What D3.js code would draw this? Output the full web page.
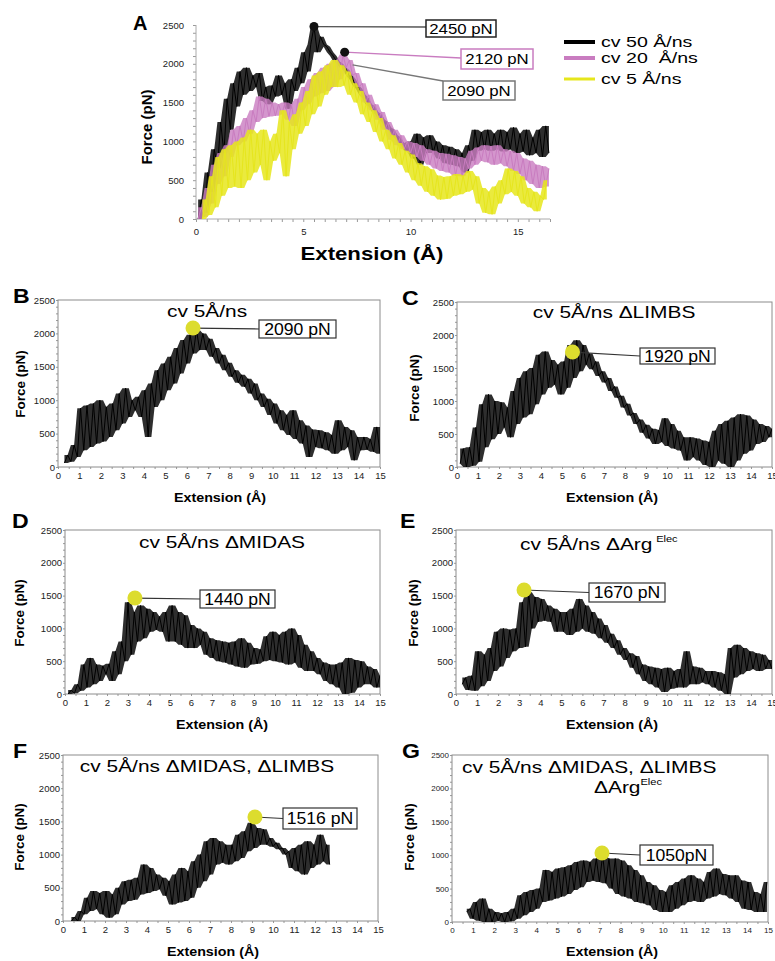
<!DOCTYPE html>
<html>
<head>
<meta charset="utf-8">
<script src="https://cdn.jsdelivr.net/npm/d3@7"></script>
<style>
  body { margin: 0; background: #fff; }
  svg { display: block; font-family: "Liberation Sans", Arial, sans-serif; }
</style>
</head>
<body>
<svg id="fig" width="775" height="961"></svg>
<script>
// every trace is a list of force values (pN),
// one value every STEP Å starting at the trace's first extension
const STEP = 0.15;

// panel A
const cv50Start = 0.1;
const cv50 = [0, 250, 80, 600, 350, 900, 650, 1250, 850, 1550,
  1150, 1750, 1450, 1900, 1600, 1950, 1650, 1850, 1700, 1880,
  1520, 1700, 1480, 1720, 1580, 1850, 1600, 1750, 1420, 1800,
  1650, 1950, 1750, 2150, 1900, 2250, 2480, 2150, 2350, 2250,
  2220, 2150, 2100, 2030, 2000, 1950, 1920, 1850, 1800, 1720,
  1680, 1600, 1560, 1480, 1450, 1380, 1350, 1280, 1250, 1180,
  1150, 1080, 1050, 980, 950, 880, 1000, 780, 1100, 700,
  1050, 850, 1080, 850, 1000, 780, 950, 720, 930, 700,
  900, 680, 850, 600, 950, 750, 1150, 880, 1120, 900,
  1150, 880, 1100, 900, 1150, 870, 1120, 900, 1180, 850,
  1100, 870, 1150, 820, 1050, 850, 1150, 800, 1200, 850];
const cv20Start = 0.1;
const cv20 = [0, 150, 30, 400, 200, 700, 450, 850, 550, 950,
  800, 1150, 950, 1200, 1000, 1300, 1100, 1400, 1250, 1580,
  1300, 1550, 1320, 1500, 1330, 1480, 1350, 1500, 1280, 1480,
  1200, 1550, 1400, 1700, 1480, 1800, 1580, 1880, 1620, 1950,
  1650, 2000, 1700, 2050, 1800, 2120, 1950, 2050, 1850, 1880,
  1700, 1750, 1500, 1600, 1400, 1480, 1280, 1380, 1150, 1250,
  1020, 1150, 950, 1080, 900, 1000, 850, 980, 800, 950,
  750, 900, 700, 880, 650, 850, 620, 840, 600, 820,
  560, 800, 550, 780, 650, 880, 700, 920, 750, 950,
  730, 940, 700, 950, 720, 900, 680, 880, 620, 850,
  580, 780, 500, 750, 450, 700, 400, 680, 420, 650];
const cv5Start = 0.3;
const cv5 = [0, 250, 50, 550, 150, 800, 300, 900, 400, 950,
  420, 1000, 400, 1050, 500, 1150, 600, 1100, 700, 1150,
  500, 1000, 750, 1100, 850, 1400, 550, 1250, 900, 1350,
  1100, 1500, 1200, 1650, 1350, 1850, 1450, 1900, 1600, 1980,
  1700, 2050, 1700, 1980, 1720, 1900, 1600, 1750, 1500, 1650,
  1350, 1500, 1250, 1400, 1120, 1300, 1000, 1150, 900, 1080,
  780, 980, 700, 880, 600, 830, 500, 720, 430, 680,
  350, 640, 300, 560, 250, 540, 260, 550, 300, 580,
  320, 560, 350, 620, 380, 550, 200, 400, 80, 350,
  60, 420, 200, 500, 320, 650, 350, 620, 300, 550,
  200, 400, 150, 350, 100, 300, 250, 500];

// panels B-G (all cv 5 Å/ns)
const traceStarts = [0.3, 0.15, 0.15, 0.3, 0.4, 0.7];
const traceB = [60, 180, 80, 330, 150, 880, 250, 920, 300, 950,
  350, 1000, 380, 900, 450, 950, 550, 1100, 650, 1180,
  750, 1000, 850, 1050, 750, 1150, 450, 1250, 900, 1450,
  1000, 1550, 1150, 1650, 1250, 1780, 1400, 1900, 1550, 1980,
  1700, 2050, 1750, 2000, 1750, 1920, 1650, 1780, 1550, 1680,
  1450, 1560, 1350, 1450, 1260, 1380, 1200, 1320, 1100, 1250,
  1000, 1100, 900, 1020, 780, 950, 650, 850, 550, 780,
  480, 850, 420, 700, 350, 620, 150, 560, 300, 550,
  280, 520, 250, 480, 200, 700, 250, 600, 300, 550,
  100, 450, 250, 450, 260, 420, 230, 600, 200];
const traceC = [50, 280, 0, 300, 20, 600, 80, 950, 300, 1100,
  420, 1000, 500, 980, 600, 900, 450, 1150, 650, 1350,
  750, 1450, 800, 1500, 950, 1700, 1100, 1750, 1200, 1620,
  1250, 1550, 1100, 1600, 1200, 1850, 1350, 1920, 1450, 1850,
  1550, 1720, 1480, 1600, 1380, 1450, 1280, 1350, 1150, 1220,
  1050, 1080, 900, 960, 780, 820, 650, 720, 520, 640,
  430, 580, 350, 560, 380, 740, 320, 650, 280, 550,
  250, 450, 100, 450, 150, 430, 100, 400, 30, 380,
  0, 550, 100, 650, 50, 700, 0, 750, 100, 800,
  200, 780, 250, 720, 350, 650, 380, 620, 450, 580];
const traceD = [0, 60, 10, 150, 50, 450, 100, 550, 150, 450,
  200, 430, 300, 460, 200, 650, 300, 800, 500, 1400,
  600, 1250, 800, 1350, 850, 1300, 950, 1250, 980, 1180,
  950, 1250, 800, 1350, 800, 1250, 750, 1200, 700, 1050,
  700, 1000, 750, 950, 600, 850, 550, 820, 500, 800,
  480, 780, 450, 800, 420, 850, 400, 780, 450, 700,
  460, 680, 500, 880, 520, 950, 500, 900, 480, 950,
  450, 1000, 480, 900, 400, 750, 350, 650, 350, 550,
  300, 480, 200, 450, 150, 450, 100, 480, 0, 550,
  20, 520, 100, 500, 150, 420, 150, 380, 100, 280];
const traceE = [150, 250, 60, 280, 50, 650, 120, 600, 200, 700,
  350, 950, 420, 1000, 550, 980, 650, 1000, 700, 1400,
  720, 1550, 1000, 1480, 1100, 1450, 1120, 1350, 1100, 1300,
  950, 1250, 950, 1250, 900, 1300, 950, 1450, 1000, 1350,
  950, 1250, 920, 1150, 850, 1050, 780, 920, 700, 820,
  600, 700, 520, 620, 400, 580, 300, 450, 200, 420,
  150, 400, 100, 380, 30, 400, 80, 350, 100, 380,
  100, 650, 150, 420, 150, 400, 180, 350, 150, 350,
  100, 330, 50, 300, 0, 700, 250, 750, 300, 700,
  350, 650, 380, 620, 350, 600, 380, 520, 380];
const traceF = [0, 60, 0, 150, 100, 350, 150, 450, 180, 420,
  100, 450, 50, 400, 100, 500, 250, 600, 300, 620,
  320, 650, 400, 850, 420, 800, 450, 700, 480, 650,
  380, 600, 250, 700, 280, 800, 300, 750, 350, 900,
  500, 1000, 600, 1200, 700, 1250, 850, 1200, 880, 1150,
  850, 1150, 900, 1300, 950, 1350, 1050, 1480, 1100, 1400,
  1150, 1380, 1150, 1250, 1120, 1180, 1080, 1100, 1000, 1050,
  800, 1100, 750, 1150, 700, 1200, 800, 1150, 850, 1300,
  900, 1150, 850];
const traceG = [150, 200, 50, 300, 20, 350, 0, 200, 0, 150,
  20, 130, 0, 150, 10, 200, 50, 400, 100, 450,
  150, 480, 200, 500, 300, 780, 320, 750, 350, 800,
  380, 820, 420, 850, 480, 900, 520, 920, 600, 900,
  620, 950, 600, 1000, 580, 950, 500, 950, 420, 920,
  380, 850, 350, 780, 300, 700, 280, 600, 250, 550,
  180, 480, 150, 450, 150, 550, 200, 600, 250, 650,
  300, 700, 320, 650, 300, 600, 350, 750, 380, 800,
  420, 720, 400, 700, 350, 700, 300, 620, 200, 600,
  180, 450, 150, 420, 150, 600];

// peak annotations
const peakAExt = [5.5, 6.93, 7.3];
const peakAForce = [2480, 2150, 1985];
const peakALabels = ["2450 pN", "2120 pN", "2090 pN"];
const peakExt = [6.29, 5.5, 3.33, 3.23, 9.14, 7.12];
const peakForce = [2080, 1742, 1463, 1585, 1566, 1033];
const peakLabels = ["2090 pN", "1920 pN", "1440 pN", "1670 pN", "1516 pN", "1050pN"];

const panelLetters = ["B", "C", "D", "E", "F", "G"];
const panelTitles = ["cv 5Å/ns", "cv 5Å/ns ΔLIMBS", "cv 5Å/ns ΔMIDAS", "cv 5Å/ns ΔArg",
  "cv 5Å/ns ΔMIDAS, ΔLIMBS", "cv 5Å/ns ΔMIDAS, ΔLIMBS"];
const legendLabels = ["cv 50 Å/ns", "cv 20  Å/ns", "cv 5 Å/ns"];
const forceTicks = [0, 500, 1000, 1500, 2000, 2500];
const extTicksA = [0, 5, 10, 15];
const extTicks = d3.range(0, 16);

const BLACK = "#000", PINK = "#c97cc0", YELLOW = "#e6e61c", DOT = "#dcdc2e";

const svg = d3.select("#fig");

// text with the slight horizontal stretch of the scanned figure
function label(g, x, y, s, size, opt = {}) {
  return g.append("text")
    .attr("transform", `translate(${x},${y}) scale(${opt.sx || 1},1)`)
    .attr("text-anchor", opt.anchor || "start")
    .attr("font-size", size)
    .attr("font-weight", opt.bold ? "bold" : null)
    .attr("fill", opt.fill || "#000")
    .style("white-space", "pre")
    .text(s);
}

function vlabel(g, x, y, s, size) {
  g.append("text")
    .attr("transform", `translate(${x},${y}) rotate(-90)`)
    .attr("text-anchor", "middle")
    .attr("font-size", size)
    .attr("font-weight", "bold")
    .text(s);
}

// a noisy trace: the band its samples sweep through, then the samples joined up
function trace(g, x, y, start, values, color, width, shade) {
  const ext = (d, i) => x(start + i * STEP);
  const span = values.map((v, i) => {
    const w = values.slice(Math.max(0, i - 1), i + 2);
    return [d3.min(w), d3.max(w)];
  });
  g.append("path")
    .attr("d", d3.area().x(ext).y0(d => y(d[0])).y1(d => y(d[1]))(span))
    .attr("fill", color)
    .attr("fill-opacity", shade);
  g.append("path")
    .attr("d", d3.line().x(ext).y(d => y(d))(values))
    .attr("fill", "none")
    .attr("stroke", color)
    .attr("stroke-width", width)
    .attr("stroke-linejoin", "round");
}

function tidyAxis(sel, size) {
  sel.select(".domain").remove();
  sel.selectAll("text").attr("font-size", size).attr("fill", "#222")
    .attr("font-family", "Liberation Sans, Arial, sans-serif");
  sel.selectAll("line").attr("stroke", "#999");
}

// ---------- panel A ----------
{
  const g = svg.append("g");
  const x = d3.scaleLinear().domain([0, 16.5]).range([196, 550]);
  const y = d3.scaleLinear().domain([0, 2500]).range([219, 25]);

  // minor ticks
  g.append("g").attr("transform", "translate(196,0)")
    .call(d3.axisLeft(y).tickValues(d3.range(0, 2501, 100)).tickSize(3).tickFormat(""))
    .call(s => tidyAxis(s, 9));
  g.append("g").attr("transform", "translate(0,219)")
    .call(d3.axisBottom(x).tickValues(d3.range(0, 16.6, 0.5)).tickSize(3).tickFormat(""))
    .call(s => tidyAxis(s, 9));
  g.append("g").attr("transform", "translate(184,0)")
    .call(d3.axisLeft(y).tickValues(forceTicks).tickSize(0).tickPadding(0).tickFormat(d3.format("d")))
    .call(s => tidyAxis(s, 9.5));
  g.append("g").attr("transform", "translate(0,228)")
    .call(d3.axisBottom(x).tickValues(extTicksA).tickSize(0).tickPadding(0).tickFormat(d3.format("d")))
    .call(s => tidyAxis(s, 9.5));
  g.append("line").attr("x1", 196).attr("x2", 196).attr("y1", 25).attr("y2", 219).attr("stroke", "#aaa");
  g.append("line").attr("x1", 196).attr("x2", 550).attr("y1", 219).attr("y2", 219).attr("stroke", "#aaa");

  svg.append("clipPath").attr("id", "clipA").append("rect")
    .attr("x", 196).attr("y", 20).attr("width", 354).attr("height", 200);
  const plot = g.append("g").attr("clip-path", "url(#clipA)");
  trace(plot, x, y, cv50Start, cv50, BLACK, 1, 0.82);
  trace(plot, x, y, cv20Start, cv20, PINK, 1, 0.8);
  trace(plot, x, y, cv5Start, cv5, YELLOW, 1, 0.85);

  // peak call-outs
  const boxes = [
    { x: 426, y: 20, w: 70, h: 17, stroke: "#222", line: "#555", ly: 27 },
    { x: 461, y: 49, w: 72, h: 20, stroke: PINK, line: PINK, ly: 58 },
    { x: 443, y: 81, w: 72, h: 19, stroke: "#777", line: "#777", ly: 81 }
  ];
  boxes.forEach((b, i) => {
    const px = x(peakAExt[i]), py = y(peakAForce[i]);
    g.append("line").attr("x1", px).attr("y1", py).attr("x2", b.x).attr("y2", b.ly)
      .attr("stroke", b.line).attr("stroke-width", 1.3);
    if (i < 2) g.append("circle").attr("cx", px).attr("cy", py).attr("r", 4.5).attr("fill", "#111");
    g.append("rect").attr("x", b.x).attr("y", b.y).attr("width", b.w).attr("height", b.h)
      .attr("fill", "#fff").attr("stroke", b.stroke).attr("stroke-width", 1.5);
    label(g, b.x + b.w / 2, b.y + b.h / 2 + 5, peakALabels[i], 14, { anchor: "middle", sx: 1.2 });
  });

  label(g, 133, 30, "A", 20, { bold: true });
  vlabel(g, 152, 127, "Force (pN)", 15);
  label(g, 372, 260, "Extension (Å)", 18.5, { bold: true, anchor: "middle", sx: 1.2 });

  // legend
  const legColors = [BLACK, PINK, YELLOW];
  const legY = [42, 58, 79];
  const legW = [4, 4, 3];
  legendLabels.forEach((s, i) => {
    g.append("line").attr("x1", 564).attr("x2", 595).attr("y1", legY[i]).attr("y2", legY[i])
      .attr("stroke", legColors[i]).attr("stroke-width", legW[i]);
    label(g, 601, legY[i] + 5, s, 14.5, { sx: 1.35 });
  });
}

// ---------- panels B-G ----------
const panels = [
  { l: 58, r: 380, t: 300, b: 467, letter: [13, 303], title: [207, 317, "middle"], box: [259, 320, 77, 18], force: [25, 384], ext: [220, 502], tick: 9.5 },
  { l: 457, r: 772, t: 302, b: 467, letter: [402, 305], title: [614, 318, "middle"], box: [640, 348, 75, 16], force: [419, 388], ext: [612, 502], tick: 9.5 },
  { l: 65, r: 380, t: 530, b: 694, letter: [12, 528], title: [222, 548, "middle"], box: [200, 590, 75, 18], force: [24, 613], ext: [222, 729], tick: 9.5 },
  { l: 456, r: 772, t: 530, b: 694, letter: [400, 528], title: [520, 550, "start"], box: [589, 583, 76, 19], force: [418, 613], ext: [612, 729], tick: 9.5 },
  { l: 63, r: 378, t: 755, b: 921, letter: [13, 758], title: [207, 772, "middle"], box: [283, 808, 74, 21], force: [24, 837], ext: [213, 956], tick: 9.5 },
  { l: 452, r: 768, t: 755, b: 922, letter: [402, 758], title: [462, 773, "start"], box: [640, 845, 73, 20], force: [414, 837], ext: [612, 956], tick: 8 }
];
const traces = [traceB, traceC, traceD, traceE, traceF, traceG];

panels.forEach((p, k) => {
  const g = svg.append("g");
  const x = d3.scaleLinear().domain([0, 15]).range([p.l, p.r]);
  const y = d3.scaleLinear().domain([0, 2500]).range([p.b, p.t]);

  g.append("g").attr("transform", `translate(${p.l},0)`)
    .call(d3.axisLeft(y).tickValues(d3.range(0, 2501, 100)).tickSize(2).tickFormat(""))
    .call(s => tidyAxis(s, 9));
  g.append("g").attr("transform", `translate(0,${p.b})`)
    .call(d3.axisBottom(x).tickValues(d3.range(0, 15.01, 0.5)).tickSize(2).tickFormat(""))
    .call(s => tidyAxis(s, 9));
  g.append("g").attr("transform", `translate(${p.l - 3},0)`)
    .call(d3.axisLeft(y).tickValues(forceTicks).tickSize(0).tickPadding(0).tickFormat(d3.format("d")))
    .call(s => tidyAxis(s, p.tick));
  g.append("g").attr("transform", `translate(0,${p.b + 5})`)
    .call(d3.axisBottom(x).tickValues(extTicks).tickSize(0).tickPadding(0).tickFormat(d3.format("d")))
    .call(s => tidyAxis(s, p.tick));
  g.append("rect").attr("x", p.l).attr("y", p.t).attr("width", p.r - p.l).attr("height", p.b - p.t)
    .attr("fill", "none").attr("stroke", "#8c8c8c");

  svg.append("clipPath").attr("id", "clip" + k).append("rect")
    .attr("x", p.l).attr("y", p.t).attr("width", p.r - p.l).attr("height", p.b - p.t);
  const plot = g.append("g").attr("clip-path", `url(#clip${k})`);
  trace(plot, x, y, traceStarts[k], traces[k], BLACK, 1, 0.82);

  // peak marker and call-out
  const px = x(peakExt[k]), py = y(peakForce[k]);
  const [bx, by, bw, bh] = p.box;
  g.append("line").attr("x1", px).attr("y1", py).attr("x2", bx).attr("y2", by + bh / 2)
    .attr("stroke", "#333").attr("stroke-width", 1.2);
  g.append("circle").attr("cx", px).attr("cy", py).attr("r", 7.5).attr("fill", DOT);
  g.append("rect").attr("x", bx).attr("y", by).attr("width", bw).attr("height", bh)
    .attr("fill", "#fff").attr("stroke", "#333").attr("stroke-width", 1.2);
  label(g, bx + bw / 2, by + bh / 2 + 5.5, peakLabels[k], 16, { anchor: "middle", sx: 1.1 });

  // titles
  const t = label(g, p.title[0], p.title[1], panelTitles[k], 17, { anchor: p.title[2], sx: 1.23 });
  if (k === 3) {
    t.append("tspan").attr("dx", 3).attr("dy", -8).attr("font-size", 9).text("Elec");
  }
  if (k === 5) {
    const t2 = label(g, 628, 793, "ΔArg", 17, { anchor: "middle", sx: 1.23 });
    t2.append("tspan").attr("dy", -8).attr("font-size", 9).text("Elec");
  }

  label(g, p.letter[0], p.letter[1], panelLetters[k], 21, { bold: true, sx: 1.1 });
  vlabel(g, p.force[0], p.force[1], "Force (pN)", 13.5);
  label(g, p.ext[0], p.ext[1], "Extension (Å)", 13, { bold: true, anchor: "middle", sx: 1.1 });
});
</script>
</body>
</html>
